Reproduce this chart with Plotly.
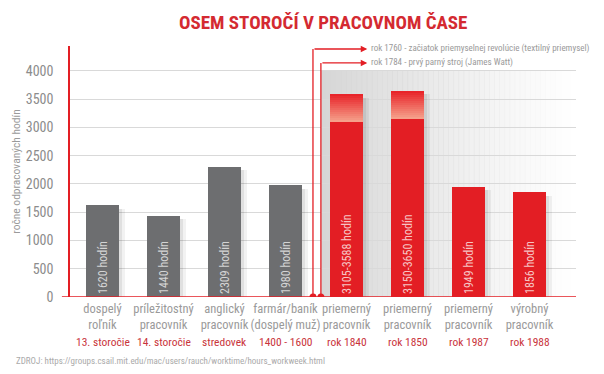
import plotly.graph_objects as go

# ---------------- data ----------------
cat_labels = ["dospelý<br>roľník", "príležitostný<br>pracovník", "anglický<br>pracovník",
              "farmár/baník<br>(dospelý muž)", "priemerný<br>pracovník", "priemerný<br>pracovník",
              "priemerný<br>pracovník", "výrobný<br>pracovník"]
period_labels = ["13. storočie", "14. storočie", "stredovek", "1400 - 1600",
                 "rok 1840", "rok 1850", "rok 1987", "rok 1988"]
hours_low = [1620, 1440, 2309, 1980, 3105, 3150, 1949, 1856]
hours_high = [1620, 1440, 2309, 1980, 3588, 3650, 1949, 1856]
bar_texts = ["1620 hodín", "1440 hodín", "2309 hodín", "1980 hodín",
             "3105-3588 hodín", "3150-3650 hodín", "1949 hodín", "1856 hodín"]
industrial = [False, False, False, False, True, True, True, True]
events = ["rok 1760 - začiatok priemyselnej revolúcie (textilný priemysel)",
          "rok 1784 - prvý parný stroj (James Watt)"]
y_ticks = [0, 500, 1000, 1500, 2000, 2500, 3000, 3500, 4000]

FONT = "Roboto Condensed, DejaVu Sans Condensed, sans-serif"
RED = "#e31e24"
GREY_BAR = "#6d6e70"
TXT_GREY = "#9a9a9a"

x = list(range(len(hours_low)))
bar_colors = [RED if ind else GREY_BAR for ind in industrial]
text_colors = ["#f6c3c3" if ind else "#d4d4d4" for ind in industrial]

fig = go.Figure()

# background gradient for industrial era
x_start, x_end = 3.58, 7.76
n_strips = 50
shapes = []
for i in range(n_strips):
    a = 1 - i / n_strips
    xs0 = x_start + (x_end - x_start) * i / n_strips
    xs1 = x_start + (x_end - x_start) * (i + 1) / n_strips
    shapes.append(dict(type="rect", xref="x", yref="y", x0=xs0, x1=xs1 + 0.01, y0=0, y1=4000,
                       fillcolor="rgba(214,214,214,%.3f)" % (a ** 1.2), line=dict(width=0),
                       layer="below"))

# shadows
fig.add_trace(go.Bar(x=x, y=[h - 60 for h in hours_high], width=0.1, offset=0.27,
                     marker=dict(color="rgba(0,0,0,0.05)", line=dict(width=0)),
                     hoverinfo="skip", showlegend=False))
fig.add_trace(go.Bar(x=x, y=[h - 60 for h in hours_high], width=0.05, offset=0.27,
                     marker=dict(color="rgba(0,0,0,0.07)", line=dict(width=0)),
                     hoverinfo="skip", showlegend=False))

# main bars
fig.add_trace(go.Bar(x=x, y=hours_low, width=0.54, marker=dict(color=bar_colors, line=dict(width=0)),
                     text=bar_texts, textposition="inside", insidetextanchor="start",
                     textangle=-90, textfont=dict(family=FONT, size=12, color=text_colors),
                     cliponaxis=False, showlegend=False))

# gradient range tops
n_seg = 14
c0 = (245, 160, 138)
c1 = (232, 36, 42)
for i in range(n_seg):
    t = i / (n_seg - 1)
    col = "rgb(%d,%d,%d)" % tuple(round(c0[k] + (c1[k] - c0[k]) * t) for k in range(3))
    xs, bases, ys = [], [], []
    for j in x:
        if hours_high[j] > hours_low[j]:
            step = (hours_high[j] - hours_low[j]) / n_seg
            xs.append(j)
            bases.append(hours_low[j] + i * step)
            ys.append(step * 1.05)
    fig.add_trace(go.Bar(x=xs, y=ys, base=bases, width=0.54,
                         marker=dict(color=col, line=dict(width=0)),
                         hoverinfo="skip", showlegend=False))

# x axis red line
shapes.append(dict(type="line", xref="paper", yref="y", x0=-0.016, x1=1, y0=0, y1=0,
                   line=dict(color=RED, width=1.5)))

# event connectors
ev_x = [3.45, 3.58]
ev_y = [4389, 4142]
arrow_x = 4.34
annotations = []
for ex, ey, txt in zip(ev_x, ev_y, events):
    shapes.append(dict(type="line", xref="x", yref="y", x0=ex, x1=ex, y0=0, y1=ey,
                       line=dict(color=RED, width=1.3)))
    shapes.append(dict(type="circle", xref="x", yref="y", xsizemode="pixel", ysizemode="pixel",
                       xanchor=ex, yanchor=0, x0=-3.5, x1=3.5, y0=-3.5, y1=3.5,
                       fillcolor=RED, line=dict(width=0)))
    annotations.append(dict(x=arrow_x, y=ey, xref="x", yref="y", ax=ex, ay=ey,
                            axref="x", ayref="y", text="", showarrow=True, arrowhead=2,
                            arrowsize=1, arrowwidth=1.3, arrowcolor=RED))
    annotations.append(dict(x=arrow_x + 0.03, y=ey, xref="x", yref="y", text=txt,
                            showarrow=False, xanchor="left", yanchor="middle",
                            font=dict(family=FONT, size=9, color=TXT_GREY)))

# period labels
for j, p in zip(x, period_labels):
    annotations.append(dict(x=j, y=-0.179, xref="x", yref="paper", text=p, showarrow=False,
                            xanchor="center", yanchor="middle",
                            font=dict(family=FONT, size=11.5, color="#c9343b")))

# title
annotations.append(dict(x=0.5, y=(297 - 22) / 251, xref="paper", yref="paper",
                        text="<b>OSEM STOROČÍ V PRACOVNOM ČASE</b>", showarrow=False,
                        xanchor="center", yanchor="middle",
                        font=dict(family=FONT, size=19, color="#d42a31")))
# source
annotations.append(dict(x=-0.111, y=-0.255, xref="paper", yref="paper",
                        text="ZDROJ: https://groups.csail.mit.edu/mac/users/rauch/worktime/hours_workweek.html",
                        showarrow=False, xanchor="left", yanchor="middle",
                        font=dict(family=FONT, size=9, color="#aaaaaa")))

fig.update_layout(
    width=604, height=374,
    margin=dict(l=70, r=28, t=46, b=77, autoexpand=False),
    paper_bgcolor="white", plot_bgcolor="rgba(0,0,0,0)",
    barmode="overlay", bargap=0,
    shapes=shapes, annotations=annotations,
    showlegend=False,
    xaxis=dict(range=[-0.533, 7.762], tickvals=x, ticktext=cat_labels, showgrid=False,
               zeroline=False, showline=False, ticks="", tickangle=0, automargin=False,
               ticklabelstandoff=2,
               tickfont=dict(family=FONT, size=12.5, color=TXT_GREY), fixedrange=True),
    yaxis=dict(range=[0, 4442], tickvals=y_ticks, showgrid=True, gridcolor="#d9d9d9",
               gridwidth=1, zeroline=False, showline=True, linecolor=RED, linewidth=1.5,
               ticks="", ticklabelstandoff=12, automargin=False,
               tickfont=dict(family=FONT, size=14, color="#8c8c8c"),
               title=dict(text="ročne odpracovaných hodín", standoff=3,
                          font=dict(family=FONT, size=11.5, color=TXT_GREY)),
               fixedrange=True),
)

fig.write_html("out.html", config={"displayModeBar": False},
               post_script="document.body.style.margin='0';")
